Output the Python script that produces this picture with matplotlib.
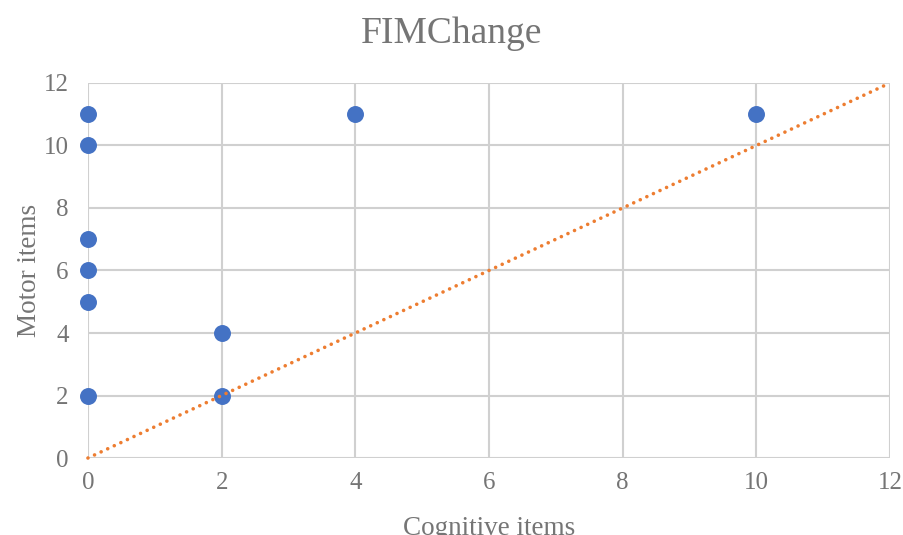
import matplotlib
matplotlib.use("Agg")
import matplotlib.pyplot as plt

# data
cognitive = [0, 0, 0, 0, 0, 0, 2, 2, 4, 10]
motor = [11, 10, 7, 6, 5, 2, 4, 2, 11, 11]
ref_x = [0, 12]
ref_y = [0, 12]
ticks = [0, 2, 4, 6, 8, 10, 12]

plt.rcParams["font.family"] = ["Liberation Serif", "DejaVu Serif"]
TXT = "#757575"

fig = plt.figure(figsize=(9.04, 5.35), dpi=100)
ax = fig.add_axes([0.0973, 0.1439, 0.8872, 0.701])

ax.scatter(cognitive, motor, s=125, color="#4472C4", zorder=3, clip_on=False)
ax.plot(ref_x, ref_y, color="#ED7D31", linewidth=2.6, linestyle=(0, (0.01, 2.0)),
        dash_capstyle="round", zorder=4, clip_on=False)

ax.set_xlim(0, 12)
ax.set_ylim(0, 12)
ax.set_xticks(ticks)
ax.set_yticks(ticks)
ax.grid(True, color="#d0d0d0", linewidth=1.5)
ax.set_axisbelow(True)
for s in ax.spines.values():
    s.set_visible(False)
ax.tick_params(length=0, labelsize=18, labelcolor=TXT)
ax.tick_params(axis="y", pad=14)
ax.tick_params(axis="x", pad=10)

fig.text(0.5, 0.937, "FIMChange", fontsize=27, color=TXT, ha="center", va="center")
ax.set_xlabel("Cognitive items", fontsize=19.5, color=TXT, labelpad=16)
ax.set_ylabel("Motor items", fontsize=19.5, color=TXT, labelpad=1)

fig.savefig("out.png", dpi=100)
